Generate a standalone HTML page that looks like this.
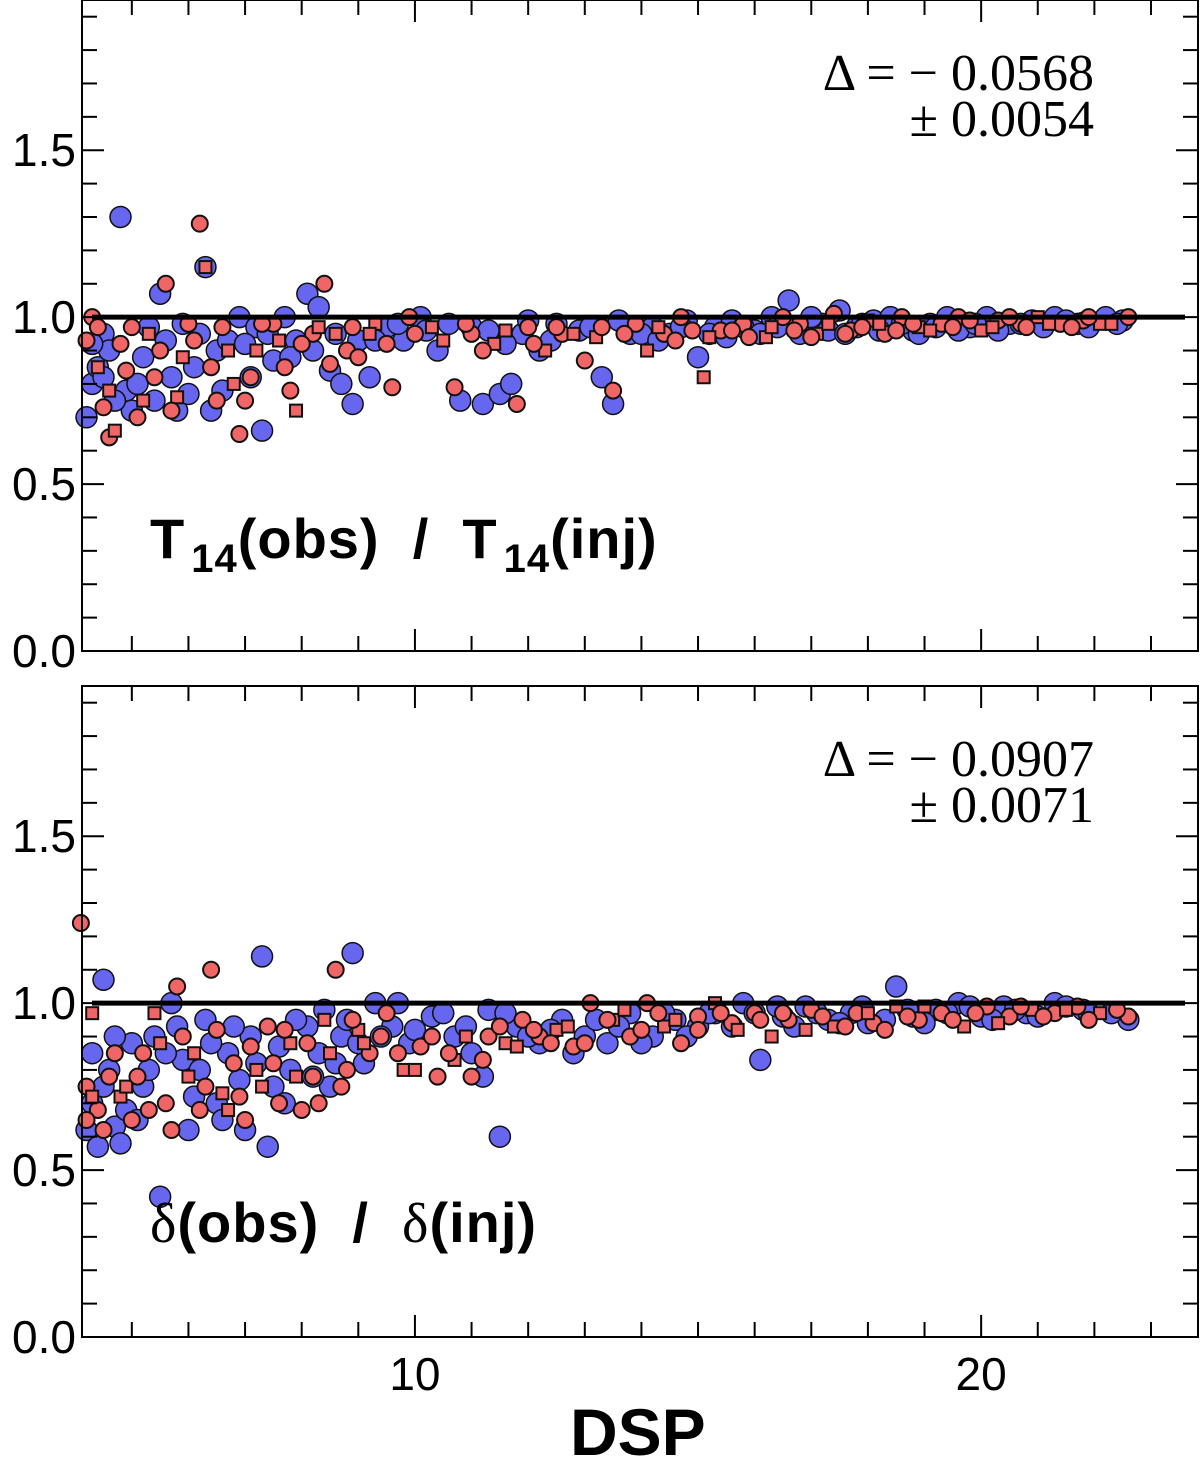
<!DOCTYPE html>
<html><head><meta charset="utf-8">
<style>
html,body{margin:0;padding:0;background:#fff;}
svg{display:block;}
</style></head>
<body>
<svg id="chart" width="1200" height="1459" viewBox="0 0 1200 1459" xmlns="http://www.w3.org/2000/svg"></svg>
<script>
const xTicks = [10, 20];
const xTickLabels = ["10", "20"];
const yTicks = [0, 0.5, 1.0, 1.5];
const yTickLabels = ["0.0", "0.5", "1.0", "1.5"];

const topBlueX = [4.2,4.3,4.4,4.5,4.6,4.8,4.9,5.0,5.2,5.3,5.5,5.6,5.8,5.9,6.1,6.3,6.4,6.5,6.7,6.9,7.1,7.2,7.3,7.5,7.7,7.9,8.1,8.3,8.5,8.7,8.9,9.0,9.2,9.5,9.8,10.1,10.4,10.8,11.0,11.2,11.5,11.7,11.9,12.2,12.5,12.9,13.3,13.5,13.8,14.2,14.5,14.8,15.0,15.3,15.6,16.0,16.3,16.6,16.9,17.2,17.5,17.8,18.1,18.4,18.8,19.1,19.4,19.8,20.1,20.5,20.9,21.3,21.7,22.2,22.5,
4.3,4.5,4.7,5.1,5.4,5.7,6.0,6.2,6.6,7.0,7.4,7.8,8.2,8.6,9.3,9.7,10.2,10.6,11.3,11.6,12.0,12.4,13.1,13.6,14.0,14.3,14.7,15.2,15.5,15.8,16.1,16.4,16.8,17.0,17.3,17.6,17.9,18.2,18.6,18.9,19.2,19.6,19.9,20.3,20.7,21.1,21.5,21.9,22.4];
const topBlueY = [0.7,0.8,0.85,0.95,0.9,1.3,0.78,0.72,0.88,0.97,1.07,0.93,0.72,0.98,0.85,1.15,0.72,0.9,0.93,1.0,0.82,0.97,0.66,0.87,1.0,0.93,1.07,1.03,0.84,0.8,0.74,0.93,0.82,0.97,0.93,1.0,0.9,0.75,0.97,0.74,0.77,0.8,0.95,0.9,0.98,0.96,0.82,0.74,0.95,0.97,0.95,0.99,0.88,0.97,0.99,0.96,1.0,1.05,0.96,0.98,1.02,0.97,0.99,1.0,0.96,0.98,1.0,0.97,1.0,0.98,0.99,1.0,0.98,1.0,0.99,
0.92,0.82,0.75,0.8,0.75,0.82,0.77,0.95,0.78,0.92,0.95,0.88,0.9,0.95,0.93,0.98,0.96,0.98,0.96,0.92,0.99,0.93,0.97,0.99,0.95,0.93,0.97,0.95,0.94,0.97,0.95,0.97,0.95,1.0,0.96,0.95,0.98,0.96,0.98,0.95,0.97,0.96,0.98,0.96,0.98,0.97,0.99,0.97,0.98];
const topRedX = [4.2,4.3,4.4,4.5,4.6,4.7,4.8,5.0,5.2,5.4,5.6,5.8,6.0,6.2,6.3,6.4,6.6,6.8,6.9,7.0,7.2,7.5,7.7,7.9,8.2,8.4,8.6,8.8,9.0,9.3,9.6,9.9,10.3,10.7,11.0,11.4,11.8,12.0,12.3,12.6,13.0,13.2,13.5,13.9,14.1,14.4,14.7,15.1,15.4,15.8,16.2,16.5,16.8,17.1,17.4,17.7,18.0,18.3,18.6,18.9,19.3,19.6,20.0,20.3,20.7,21.0,21.4,21.8,22.1,22.6,
4.4,4.6,4.9,5.1,5.3,5.5,5.7,5.9,6.1,6.5,6.7,7.1,7.3,7.6,7.8,8.0,8.3,8.5,8.9,9.2,9.5,10.0,10.5,10.9,11.2,11.6,12.1,12.5,12.8,13.3,13.7,14.3,14.6,14.9,15.2,15.6,15.9,16.3,16.7,17.0,17.3,17.6,17.9,18.2,18.5,18.8,19.1,19.5,19.8,20.2,20.5,20.8,21.2,21.6,21.9,22.3];
const topRedY = [0.93,1.0,0.85,0.73,0.64,0.66,0.92,0.97,0.75,0.82,1.1,0.76,0.98,1.28,1.15,0.85,0.97,0.8,0.65,0.75,0.9,0.98,0.85,0.72,0.95,1.1,0.95,0.9,0.88,0.98,0.79,1.0,0.97,0.79,0.95,0.92,0.74,0.97,0.9,0.95,0.87,0.94,0.78,0.98,0.9,0.95,1.0,0.82,0.96,0.98,0.94,1.0,0.98,0.95,1.01,0.96,0.99,0.95,1.0,0.97,0.98,1.0,0.96,0.99,0.98,1.0,0.98,0.99,0.98,1.0,
0.97,0.78,0.84,0.7,0.95,0.9,0.72,0.88,0.93,0.75,0.9,0.82,0.98,0.93,0.78,0.92,0.97,0.86,0.97,0.95,0.92,0.95,0.93,0.98,0.9,0.96,0.92,0.97,0.95,0.97,0.95,0.97,0.93,0.96,0.94,0.96,0.94,0.97,0.96,0.94,0.98,0.95,0.97,0.98,0.96,0.98,0.96,0.97,0.99,0.97,1.0,0.97,0.98,0.97,1.0,0.98];

const botBlueX = [4.2,4.3,4.4,4.5,4.6,4.7,4.8,5.0,5.2,5.4,5.5,5.7,5.9,6.1,6.3,6.5,6.7,6.9,7.1,7.3,7.4,7.6,7.8,8.1,8.3,8.5,8.7,8.9,9.1,9.3,9.6,9.9,10.3,10.7,11.0,11.3,11.5,11.8,12.2,12.6,13.0,13.4,13.8,14.2,14.6,15.0,15.3,15.8,16.1,16.5,16.9,17.3,17.7,18.0,18.5,18.8,19.2,19.6,20.0,20.4,20.8,21.3,21.8,22.6,
4.3,4.5,4.7,4.9,5.1,5.3,5.6,5.8,6.0,6.2,6.4,6.6,6.8,7.0,7.2,7.5,7.7,7.9,8.2,8.4,8.6,8.8,9.0,9.4,9.7,10.0,10.5,10.9,11.2,11.6,12.0,12.4,12.8,13.2,13.6,14.0,14.4,14.8,15.2,15.6,16.0,16.4,16.7,17.1,17.5,17.9,18.3,18.7,19.0,19.4,19.8,20.2,20.6,21.0,21.5,21.9,22.3];
const botBlueY = [0.62,0.7,0.57,1.07,0.8,0.63,0.58,0.88,0.75,0.9,0.42,1.0,0.83,0.72,0.95,0.7,0.85,0.77,0.9,1.14,0.57,0.87,0.8,0.93,0.85,0.75,0.9,1.15,0.82,1.0,0.93,0.88,0.96,0.9,0.85,0.98,0.6,0.93,0.88,0.95,0.9,0.88,0.97,0.9,0.95,0.93,0.97,1.0,0.83,0.96,0.99,0.95,0.97,0.94,1.05,0.96,0.98,1.0,0.96,0.99,0.97,1.0,0.98,0.95,
0.85,0.75,0.9,0.68,0.65,0.8,0.85,0.93,0.62,0.8,0.88,0.65,0.93,0.62,0.82,0.75,0.7,0.95,0.78,0.98,0.82,0.95,0.88,0.9,1.0,0.92,0.97,0.93,0.78,0.97,0.9,0.92,0.85,0.95,0.93,0.88,0.97,0.9,0.97,0.93,0.97,0.99,0.93,0.97,0.94,0.99,0.95,0.98,0.94,0.97,0.99,0.95,0.98,0.96,0.99,0.97,0.97];
const botRedX = [4.1,4.2,4.3,4.4,4.6,4.8,5.0,5.2,5.4,5.6,5.8,6.0,6.2,6.4,6.6,6.8,7.0,7.2,7.4,7.6,7.8,8.0,8.2,8.4,8.6,8.8,9.0,9.2,9.5,9.8,10.1,10.4,10.7,11.0,11.3,11.6,11.9,12.2,12.5,12.8,13.1,13.5,13.8,14.1,14.4,14.7,15.0,15.3,15.6,16.0,16.3,16.6,17.0,17.4,17.8,18.1,18.5,18.9,19.3,19.7,20.1,20.5,20.9,21.3,21.7,22.1,22.6,
4.2,4.3,4.5,4.7,4.9,5.1,5.3,5.5,5.7,5.9,6.1,6.3,6.5,6.7,6.9,7.1,7.3,7.5,7.7,7.9,8.1,8.3,8.5,8.7,8.9,9.1,9.4,9.7,10.0,10.3,10.6,10.9,11.2,11.5,11.8,12.1,12.4,12.7,13.0,13.4,13.7,14.0,14.3,14.6,15.0,15.4,15.7,16.1,16.5,16.9,17.2,17.6,18.0,18.3,18.7,19.0,19.5,19.9,20.3,20.7,21.1,21.5,21.9,22.4];
const botRedY = [1.24,0.75,0.97,0.68,0.78,0.72,0.65,0.85,0.97,0.7,1.05,0.78,0.68,1.1,0.73,0.82,0.65,0.8,0.93,0.7,0.88,0.68,0.78,0.95,1.1,0.8,0.92,0.85,0.97,0.8,0.87,0.78,0.83,0.78,0.9,0.88,0.95,0.9,0.92,0.87,1.0,0.95,0.9,1.0,0.93,0.88,0.96,1.0,0.94,0.97,0.9,0.95,0.98,0.93,0.97,0.94,0.99,0.95,0.97,0.93,0.99,0.96,0.98,0.97,0.99,0.97,0.96,
0.65,0.72,0.62,0.85,0.75,0.78,0.68,0.88,0.62,0.9,0.85,0.75,0.92,0.68,0.72,0.87,0.75,0.82,0.92,0.78,0.88,0.7,0.85,0.75,0.95,0.88,0.9,0.85,0.8,0.9,0.85,0.9,0.83,0.93,0.87,0.92,0.88,0.93,0.88,0.95,0.98,0.92,0.97,0.95,0.92,0.97,0.92,0.95,0.97,0.92,0.96,0.93,0.97,0.92,0.96,0.99,0.95,0.97,0.94,0.99,0.96,0.98,0.95,0.98];

const NS = "http://www.w3.org/2000/svg";
const svg = document.getElementById("chart");
const X0 = 82, X1 = 1198, XMIN = 4.12, XMAX = 23.83;
function xs(v){ return X0 + (v - XMIN) / (XMAX - XMIN) * (X1 - X0); }
function mk(tag, attrs, parent){
  const e = document.createElementNS(NS, tag);
  for (const k in attrs) e.setAttribute(k, attrs[k]);
  (parent || svg).appendChild(e);
  return e;
}

function panel(name, top, bottom, bx, by, rx, ry, annot1, annot2){
  const g = mk("g", {});
  
  
  const ys = v => bottom - v / 1.95 * (bottom - top);
  const pts = mk("g", {}, g);
  
  
  for (let i = 0; i < bx.length; i++){
    const c = mk("circle", {cx: xs(bx[i]), cy: ys(by[i]), r: 10.5, fill: "#6666ee", stroke: "#111", "stroke-width": 1.5}, pts);
    
    
  }
  for (let i = 0; i < rx.length; i++){
    let c;
    if (i % 3 === 2) {
      c = mk("rect", {x: xs(rx[i]) - 6, y: ys(ry[i]) - 6, width: 12, height: 12, fill: "#f06666", stroke: "#111", "stroke-width": 2}, pts);
    } else {
      c = mk("circle", {cx: xs(rx[i]), cy: ys(ry[i]), r: 8, fill: "#f06666", stroke: "#111", "stroke-width": 2}, pts);
    }
    
    
  }
  const ref = mk("line", {x1: 92, x2: 1185, y1: ys(1), y2: ys(1), stroke: "#000", "stroke-width": 5}, g);
  
  
  const fr = mk("rect", {x: X0, y: top, width: X1 - X0, height: bottom - top, fill: "none", stroke: "#000", "stroke-width": 2}, g);
  
  
  for (let v = 5; v <= 23; v++){
    const L = (v % 10 === 0) ? 22 : 15;
    mk("line", {x1: xs(v), x2: xs(v), y1: bottom, y2: bottom - L, stroke: "#000", "stroke-width": 2}, g);
    mk("line", {x1: xs(v), x2: xs(v), y1: top, y2: top + L, stroke: "#000", "stroke-width": 2}, g);
  }
  for (let k = 1; k <= 19; k++){
    const v = k / 10;
    const L = (k % 5 === 0) ? 22 : 15;
    mk("line", {x1: X0, x2: X0 + L, y1: ys(v), y2: ys(v), stroke: "#000", "stroke-width": 2}, g);
    mk("line", {x1: X1, x2: X1 - L, y1: ys(v), y2: ys(v), stroke: "#000", "stroke-width": 2}, g);
  }
  for (let i = 0; i < yTicks.length; i++){
    const t = mk("text", {x: 76, y: ys(yTicks[i]) + 16, "text-anchor": "end", "font-family": "Liberation Sans, sans-serif", "font-size": 46, fill: "#000"}, g);
    t.textContent = yTickLabels[i];
    
    
  }
  const a1 = mk("text", {x: 1094, y: top + 90, "text-anchor": "end", "font-family": "Liberation Serif, serif", "font-size": 52, fill: "#000"}, g);
  a1.textContent = "Δ = − " + annot1;
  
  
  const a2 = mk("text", {x: 1094, y: top + 136, "text-anchor": "end", "font-family": "Liberation Serif, serif", "font-size": 52, fill: "#000"}, g);
  a2.textContent = "± " + annot2;
  
  
}

panel("top-panel", 0, 651, topBlueX, topBlueY, topRedX, topRedY, "0.0568", "0.0054");
panel("bottom-panel", 686, 1337, botBlueX, botBlueY, botRedX, botRedY, "0.0907", "0.0071");

for (let i = 0; i < xTicks.length; i++){
  const t = mk("text", {x: xs(xTicks[i]), y: 1390, "text-anchor": "middle", "font-family": "Liberation Sans, sans-serif", "font-size": 46, fill: "#000"});
  t.textContent = xTickLabels[i];
  
  
}
</script>
<div style="position:absolute;left:0;top:0;width:1200px;height:1459px;pointer-events:none;font-family:'Liberation Sans',sans-serif;font-weight:bold;">
  <div style="position:absolute;left:150px;top:506px;font-size:56px;white-space:nowrap;letter-spacing:1px;">T<sub style="font-size:40px;vertical-align:-14px;margin-left:6px;">14</sub>(obs)&nbsp; /&nbsp; T<sub style="font-size:40px;vertical-align:-14px;margin-left:6px;">14</sub>(inj)</div>
  <div style="position:absolute;left:150px;top:1190px;font-size:56px;white-space:nowrap;letter-spacing:1px;"><span style="font-family:'Liberation Serif',serif;font-weight:normal;">δ</span>(obs)&nbsp; /&nbsp; <span style="font-family:'Liberation Serif',serif;font-weight:normal;">δ</span>(inj)</div>
  <div style="position:absolute;left:570px;top:1394px;font-size:66px;">DSP</div>
</div>
</body></html>
